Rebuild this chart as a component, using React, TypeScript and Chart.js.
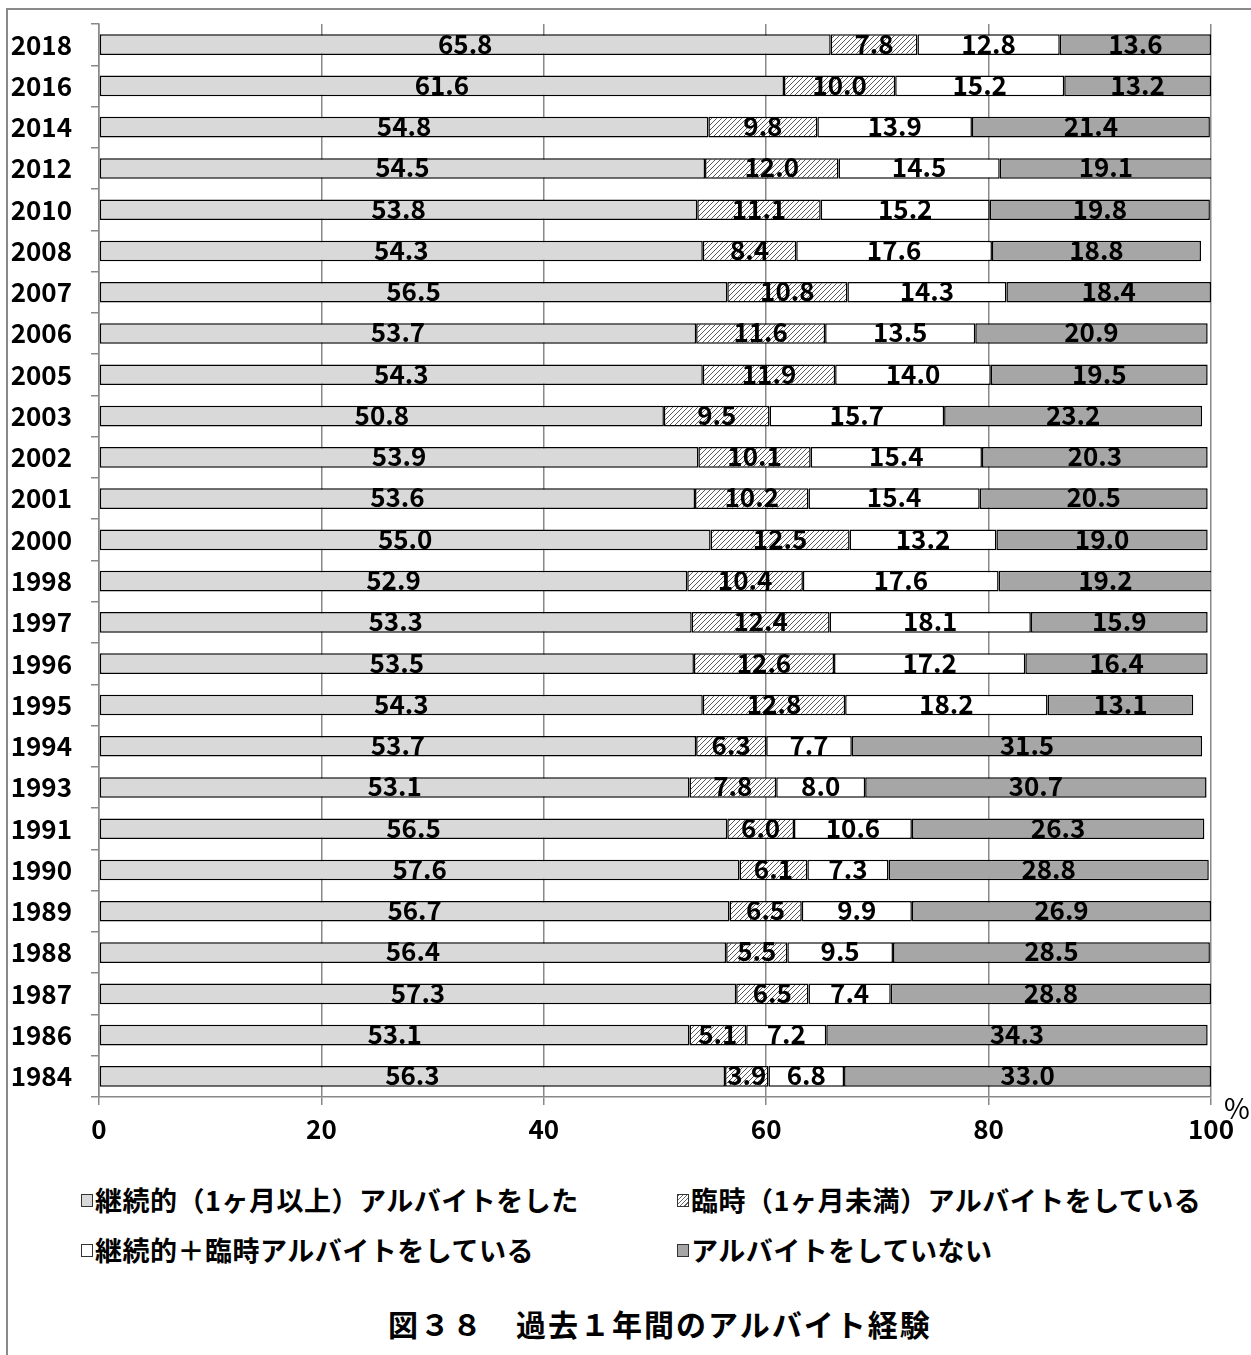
import React, { useEffect, useRef } from 'react';
import { Chart, registerables } from 'chart.js';

Chart.register(...registerables);

const FONT = "'Noto Sans CJK JP', 'Noto Sans', sans-serif";

const categories = [
  '2018', '2016', '2014', '2012', '2010', '2008', '2007', '2006', '2005', '2003',
  '2002', '2001', '2000', '1998', '1997', '1996', '1995', '1994', '1993', '1991',
  '1990', '1989', '1988', '1987', '1986', '1984',
];

const seriesContinuous = [
  65.8, 61.6, 54.8, 54.5, 53.8, 54.3, 56.5, 53.7, 54.3, 50.8,
  53.9, 53.6, 55.0, 52.9, 53.3, 53.5, 54.3, 53.7, 53.1, 56.5,
  57.6, 56.7, 56.4, 57.3, 53.1, 56.3,
];

const seriesTemporary = [
  7.8, 10.0, 9.8, 12.0, 11.1, 8.4, 10.8, 11.6, 11.9, 9.5,
  10.1, 10.2, 12.5, 10.4, 12.4, 12.6, 12.8, 6.3, 7.8, 6.0,
  6.1, 6.5, 5.5, 6.5, 5.1, 3.9,
];

const seriesBoth = [
  12.8, 15.2, 13.9, 14.5, 15.2, 17.6, 14.3, 13.5, 14.0, 15.7,
  15.4, 15.4, 13.2, 17.6, 18.1, 17.2, 18.2, 7.7, 8.0, 10.6,
  7.3, 9.9, 9.5, 7.4, 7.2, 6.8,
];

const seriesNone = [
  13.6, 13.2, 21.4, 19.1, 19.8, 18.8, 18.4, 20.9, 19.5, 23.2,
  20.3, 20.5, 19.0, 19.2, 15.9, 16.4, 13.1, 31.5, 30.7, 26.3,
  28.8, 26.9, 28.5, 28.8, 34.3, 33.0,
];

const seriesNames = [
  '継続的（1ヶ月以上）アルバイトをした',
  '臨時（1ヶ月未満）アルバイトをしている',
  '継続的＋臨時アルバイトをしている',
  'アルバイトをしていない',
];

const xTickValues = [0, 20, 40, 60, 80, 100];
const axisUnit = '%';
const chartTitle = '図３８　過去１年間のアルバイト経験';

const LIGHT = '#d9d9d9';
const DARK = '#a6a6a6';

export default function App() {
  const ref = useRef<HTMLCanvasElement>(null);

  useEffect(() => {
    const canvas = ref.current;
    if (!canvas) return;
    const pc = document.createElement('canvas');
    pc.width = 5;
    pc.height = 5;
    const p = pc.getContext('2d')!;
    p.fillStyle = '#ffffff';
    p.fillRect(0, 0, 5, 5);
    p.strokeStyle = '#5a5a5a';
    p.lineWidth = 1;
    p.beginPath();
    p.moveTo(0, 5); p.lineTo(5, 0);
    p.moveTo(-1, 1); p.lineTo(1, -1);
    p.moveTo(4, 6); p.lineTo(6, 4);
    p.stroke();
    const hatch = canvas.getContext('2d')!.createPattern(pc, 'repeat')!;

    const labelPlugin = {
      id: 'segLabels',
      afterDatasetsDraw(chart: any) {
        const ctx = chart.ctx;
        ctx.save();
        ctx.font = `bold 26px ${FONT}`;
        ctx.fillStyle = '#000';
        ctx.textAlign = 'center';
        ctx.textBaseline = 'middle';
        chart.data.datasets.forEach((ds: any, i: number) => {
          const meta = chart.getDatasetMeta(i);
          meta.data.forEach((el: any, j: number) => {
            const v = ds.data[j];
            const cx = (el.x + el.base) / 2;
            ctx.fillText(Number(v).toFixed(1), cx, el.y - 1);
          });
        });
        ctx.restore();
      },
    };

    const common = {
      borderColor: '#000',
      borderWidth: 1.5,
      borderSkipped: false,
      barPercentage: 0.5,
      categoryPercentage: 1,
    };

    const chart = new Chart(canvas, {
      type: 'bar',
      data: {
        labels: categories,
        datasets: [
          { label: seriesNames[0], data: seriesContinuous, backgroundColor: LIGHT, ...common },
          { label: seriesNames[1], data: seriesTemporary, backgroundColor: hatch, ...common },
          { label: seriesNames[2], data: seriesBoth, backgroundColor: '#ffffff', ...common },
          { label: seriesNames[3], data: seriesNone, backgroundColor: DARK, ...common },
        ],
      } as any,
      options: {
        indexAxis: 'y',
        animation: false,
        responsive: false,
        maintainAspectRatio: false,
        devicePixelRatio: 1,
        layout: { padding: { top: 24, right: 40, left: 0, bottom: 0 } },
        plugins: {
          legend: { display: false },
          tooltip: { enabled: false },
          title: { display: false },
        },
        scales: {
          x: {
            stacked: true,
            min: 0,
            max: 100,
            afterBuildTicks: (scale: any) => {
              scale.ticks = xTickValues.map((v) => ({ value: v }));
            },
            afterFit: (scale: any) => {
              scale.height = 68;
              scale.paddingLeft = 0;
              scale.paddingRight = 0;
            },
            ticks: {
              font: { family: FONT, size: 26, weight: 'bold' },
              color: '#000',
              padding: 9,
              maxRotation: 0,
            },
            grid: {
              color: '#888888',
              lineWidth: 1.5,
              tickLength: 8,
              drawTicks: true,
            },
            border: { display: true, color: '#888888', width: 1.5 },
          },
          y: {
            stacked: true,
            afterFit: (scale: any) => {
              scale.width = 99;
              scale.paddingTop = 0;
              scale.paddingBottom = 0;
            },
            ticks: {
              font: { family: FONT, size: 26, weight: 'bold' },
              color: '#000',
              padding: 19,
              autoSkip: false,
            },
            grid: {
              offset: true,
              drawOnChartArea: false,
              color: '#888888',
              lineWidth: 1.5,
              tickLength: 8,
            },
            border: { display: true, color: '#888888', width: 1.5 },
          },
        },
      } as any,
      plugins: [labelPlugin],
    });
    return () => chart.destroy();
  }, []);

  const legendText: React.CSSProperties = {
    position: 'absolute',
    font: `bold 27px ${FONT}`,
    letterSpacing: 0.5,
    lineHeight: '30px',
    color: '#000',
    whiteSpace: 'nowrap',
    display: 'flex',
    alignItems: 'center',
  };
  const box = (bg: string): React.CSSProperties => ({
    display: 'inline-block',
    width: 12,
    height: 13,
    border: '1px solid #333',
    background: bg,
    marginRight: 2,
    boxSizing: 'border-box',
  });
  const hatchCss = 'repeating-linear-gradient(-45deg, #ffffff 0px, #ffffff 2px, #666666 2px, #666666 3px)';

  return (
    <div style={{ position: 'relative', width: 1251, height: 1355, overflow: 'hidden', background: '#fff' }}>
      <style>{`html,body{margin:0;padding:0;overflow:hidden;background:#fff}`}</style>
      <div
        style={{
          position: 'absolute',
          left: 6,
          top: 8,
          width: 1400,
          height: 1500,
          border: '2px solid #8a8a8a',
          boxSizing: 'border-box',
        }}
      />
      <canvas
        ref={ref}
        width={1251}
        height={1165}
        style={{ position: 'absolute', left: 0, top: 0, width: 1251, height: 1165 }}
      />
      <div style={{ position: 'absolute', left: 1224, top: 1092, font: `28px ${FONT}`, lineHeight: '30px', color: '#000' }}>
        {axisUnit}
      </div>
      <div style={{ ...legendText, left: 81, top: 1185 }}>
        <span style={box(LIGHT)} />
        <span>{seriesNames[0]}</span>
      </div>
      <div style={{ ...legendText, left: 677, top: 1185 }}>
        <span style={box(hatchCss)} />
        <span>{seriesNames[1]}</span>
      </div>
      <div style={{ ...legendText, left: 81, top: 1235 }}>
        <span style={box('#ffffff')} />
        <span>{seriesNames[2]}</span>
      </div>
      <div style={{ ...legendText, left: 677, top: 1235 }}>
        <span style={box(DARK)} />
        <span>{seriesNames[3]}</span>
      </div>
      <div
        style={{
          position: 'absolute',
          left: 388,
          top: 1304,
          font: `bold 30px ${FONT}`,
          letterSpacing: 2,
          lineHeight: '38px',
          color: '#000',
          whiteSpace: 'nowrap',
        }}
      >
        {chartTitle}
      </div>
    </div>
  );
}
